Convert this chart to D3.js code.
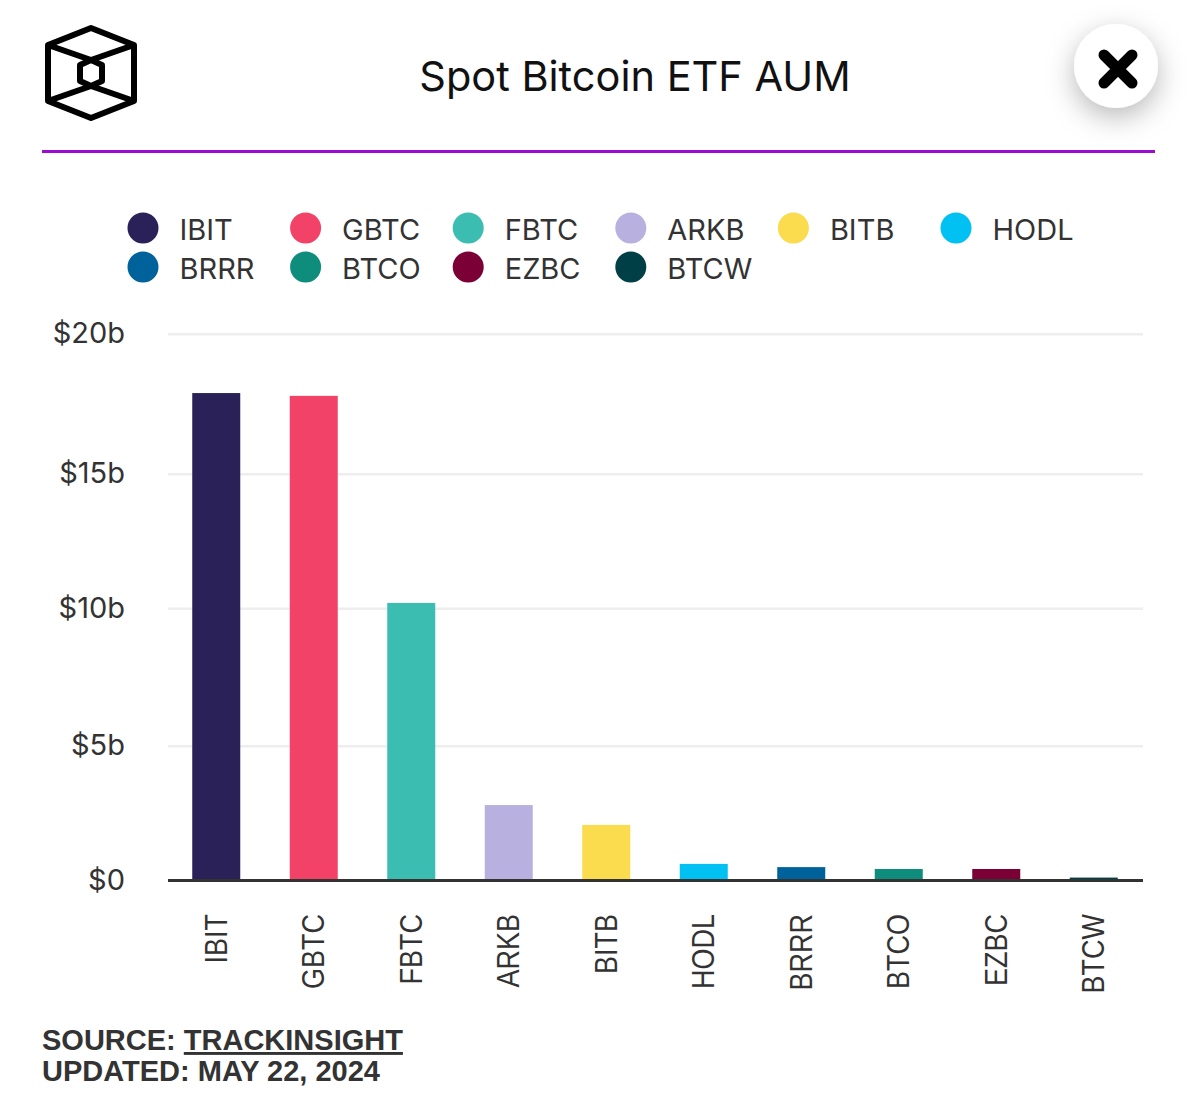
<!DOCTYPE html>
<html>
<head>
<meta charset="utf-8">
<script src="https://cdn.jsdelivr.net/npm/d3@7"></script>
<style>
  html, body { margin: 0; padding: 0; background: #fff; }
  svg { display: block; }
</style>
</head>
<body>
<svg id="chart" width="1200" height="1108"></svg>
<script>
const tickers = ['IBIT', 'GBTC', 'FBTC', 'ARKB', 'BITB', 'HODL', 'BRRR', 'BTCO', 'EZBC', 'BTCW']
const aum = [17.88, 17.78, 10.2, 2.79, 2.05, 0.6, 0.48, 0.41, 0.41, 0.09]
const colors = ['#2a2158', '#f24268', '#3bbdb2', '#b8b1e0', '#fbdc4e', '#00c1f1', '#00629b', '#0e8c7c', '#7a0035', '#003f45']
const yTicks = [0, 5, 10, 15, 20]

const svg = d3.select('#chart')
const sans = 'Inter, "Liberation Sans", sans-serif'
const helv = '"Liberation Sans", Arial, sans-serif'
const textColor = '#333333'

const x = d3.scaleBand().domain(tickers).range([167.5, 1142.5])
// the gridlines in the picture are not quite evenly spaced, so one stop per tick
const y = d3.scaleLinear().domain(yTicks).range([880, 745.7, 608.3, 473.7, 333.7])

// header
const logo = svg.append('g')
  .attr('fill', 'none')
  .attr('stroke', '#000')
  .attr('stroke-width', 6)
  .attr('stroke-linejoin', 'round')
logo.append('path').attr('d', 'M91,28L134,45V101L91,118L48,101V45Z')
logo.append('path').attr('d', 'M91,60L102,65V81L91,86L80,81V65Z')
logo.append('path').attr('d', 'M48,45L91,60L134,45M48,101L91,86L134,101')

svg.append('text')
  .attr('x', 635)
  .attr('y', 91)
  .attr('text-anchor', 'middle')
  .attr('font-family', sans)
  .attr('font-size', 41.5)
  .attr('fill', '#111')
  .text('Spot Bitcoin ETF AUM')

const shadow = svg.append('defs').append('filter')
  .attr('id', 'btn-shadow')
  .attr('x', '-60%').attr('y', '-60%')
  .attr('width', '220%').attr('height', '220%')
shadow.append('feDropShadow')
  .attr('dx', 0).attr('dy', 9)
  .attr('stdDeviation', 14)
  .attr('flood-color', '#000')
  .attr('flood-opacity', 0.28)

svg.append('circle')
  .attr('cx', 1116).attr('cy', 66).attr('r', 42)
  .attr('fill', '#fff')
  .attr('filter', 'url(#btn-shadow)')
svg.append('path')
  .attr('d', 'M1104,55L1132,83M1132,55L1104,83')
  .attr('stroke', '#000')
  .attr('stroke-width', 11)
  .attr('stroke-linecap', 'round')

svg.append('line')
  .attr('x1', 42).attr('x2', 1155)
  .attr('y1', 151.5).attr('y2', 151.5)
  .attr('stroke', '#9a0cd0')
  .attr('stroke-width', 3)

// legend, six to a row
const legendX = d3.scalePoint().domain(d3.range(6)).range([143, 956])
const legendY = d3.scalePoint().domain([0, 1]).range([228, 267])
const legend = svg.append('g').selectAll('g')
  .data(tickers)
  .join('g')
  .attr('transform', (d, i) => `translate(${legendX(i % 6)},${legendY(Math.floor(i / 6))})`)
legend.append('circle')
  .attr('r', 15.5)
  .attr('fill', (d, i) => colors[i])
legend.append('text')
  .attr('x', 36.5)
  .attr('y', 12)
  .attr('font-family', sans)
  .attr('font-size', 29)
  .attr('fill', textColor)
  .text(d => d)

// gridlines and y labels
const yAxis = svg.append('g')
  .attr('transform', 'translate(168,0)')
  .call(d3.axisLeft(y).tickValues(yTicks).tickSize(-975).tickPadding(43).tickFormat(d => (d === 0 ? '$0' : `$${d}b`)))
yAxis.select('.domain').remove()
yAxis.selectAll('.tick line')
  .attr('stroke', '#eeeeee')
  .attr('stroke-width', 2.5)
yAxis.selectAll('.tick text')
  .attr('font-family', sans)
  .attr('font-size', 29)
  .attr('fill', textColor)

// bars
svg.append('g').selectAll('rect')
  .data(aum)
  .join('rect')
  .attr('x', (d, i) => x(tickers[i]) + x.bandwidth() / 2 - 24)
  .attr('width', 48)
  .attr('y', d => y(d))
  .attr('height', d => y(0) - y(d))
  .attr('fill', (d, i) => colors[i])

// x axis
const xAxis = svg.append('g')
  .attr('transform', 'translate(0,880)')
  .call(d3.axisBottom(x).tickSize(0))
xAxis.select('.domain')
  .attr('stroke', '#333')
  .attr('stroke-width', 3)
xAxis.selectAll('.tick text')
  .attr('font-family', helv)
  .attr('font-size', 31)
  .attr('fill', textColor)
  .attr('text-anchor', 'end')
  .attr('dominant-baseline', 'middle')
  .attr('dy', 0)
  .attr('y', 0)
  .attr('transform', 'translate(2.5,34) rotate(-90) scale(0.87,1)')

// source note
const note = svg.append('g')
  .attr('font-family', helv)
  .attr('font-weight', 700)
  .attr('font-size', 29)
  .attr('fill', textColor)
const source = note.append('text').attr('x', 42).attr('y', 1050)
source.append('tspan').text('SOURCE: ')
source.append('tspan').attr('text-decoration', 'underline').text('TRACKINSIGHT')
note.append('text').attr('x', 42).attr('y', 1081).text('UPDATED: MAY 22, 2024')
</script>
</body>
</html>
